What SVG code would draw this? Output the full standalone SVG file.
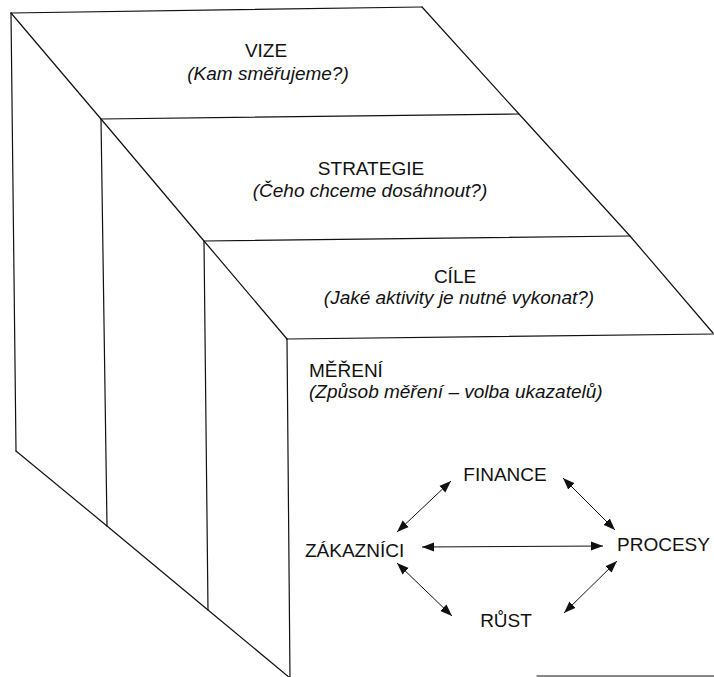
<svg xmlns="http://www.w3.org/2000/svg" width="714" height="677" viewBox="0 0 714 677">
<style>
.ln{stroke:#111;stroke-width:1.2;fill:none;stroke-linecap:round;stroke-linejoin:round}
.t{font-family:"Liberation Sans",Arial,sans-serif;font-size:19px;fill:#111}
.i{font-style:italic}
.c{text-anchor:middle}
.ar{stroke:#111;stroke-width:1;fill:none;marker-start:url(#ah);marker-end:url(#ah)}
</style>
<defs>
<marker id="ah" markerUnits="userSpaceOnUse" markerWidth="13" markerHeight="11" refX="12" refY="5.5" orient="auto-start-reverse" viewBox="0 0 13 11">
<path d="M0,1 L12,5.5 L0,10 Z" fill="#111"/>
</marker>
</defs>
<rect width="714" height="677" fill="#fff"/>
<g id="staircase">
<path class="ln" d="M11,13 L422,7"/>
<path class="ln" d="M11,13 L16,451"/>
<path class="ln" d="M11,13 L101,119 L204,241 L287,339"/>
<path class="ln" d="M422,7 L519,114 L630,236 L713,333"/>
<path class="ln" d="M101,119 L519,114"/>
<path class="ln" d="M204,241 L630,236"/>
<path class="ln" d="M287,339 L714,334"/>
<path class="ln" d="M101,119 L107,526"/>
<path class="ln" d="M204,241 L208,610"/>
<path class="ln" d="M287,339 L290,678"/>
<path class="ln" d="M16,451 L107,526 L208,610 L290,678"/>
<path class="ln" d="M537,676 L714,676"/>
</g>
<g id="vize">
<text class="t c" x="266" y="57">VIZE</text>
<text class="t i c" x="268" y="80">(Kam směřujeme?)</text>
</g>
<g id="strategie">
<text class="t c" x="371" y="175">STRATEGIE</text>
<text class="t i c" x="370" y="197">(Čeho chceme dosáhnout?)</text>
</g>
<g id="cile">
<text class="t c" x="455" y="283">CÍLE</text>
<text class="t i c" x="459" y="304">(Jaké aktivity je nutné vykonat?)</text>
</g>
<g id="mereni">
<text class="t" x="309" y="377">MĚŘENÍ</text>
<text class="t i" x="309" y="398">(Způsob měření – volba ukazatelů)</text>
</g>
<g id="finance"><text class="t c" x="505" y="481">FINANCE</text></g>
<g id="zakaznici"><text class="t" x="305" y="557">ZÁKAZNÍCI</text></g>
<g id="procesy"><text class="t" x="617" y="551">PROCESY</text></g>
<g id="rust"><text class="t c" x="506" y="627">RŮST</text></g>
<g id="connectors">
<line class="ar" x1="451" y1="481" x2="397" y2="532"/>
<line class="ar" x1="563" y1="478" x2="615" y2="530"/>
<line class="ar" x1="422" y1="547" x2="603" y2="546"/>
<line class="ar" x1="397" y1="563" x2="452" y2="616"/>
<line class="ar" x1="617" y1="561" x2="564" y2="613"/>
</g>
</svg>
